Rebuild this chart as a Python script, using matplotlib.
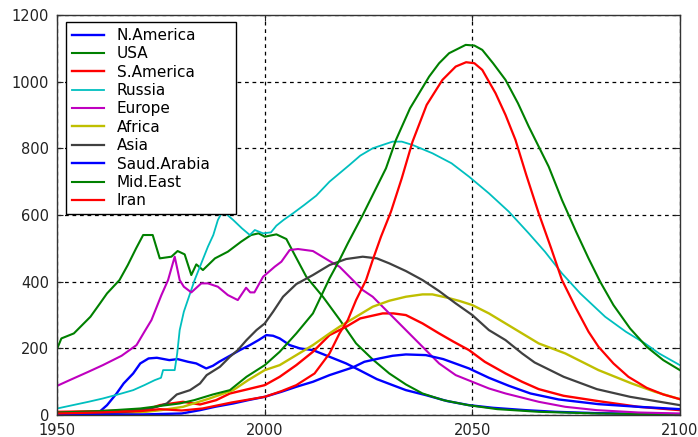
# Oil production by region, history and projection

import numpy as np
import matplotlib.pyplot as plt

plt.rcParams['font.family'] = ['DejaVu Sans']

# (year, value) per region
na_years = [1950, 1955, 1960, 1962, 1964.3, 1966, 1968.3, 1970, 1972, 1974, 1977, 1979, 1981.5, 1983.5,
            1985.9, 1987.5, 1989, 1991.6, 1994, 1996.4, 1998.5, 2000.4, 2002, 2003.6, 2006, 2008.5, 2011.6,
            2015.6, 2019.6, 2022.8, 2027, 2030.8, 2034, 2038.8, 2044, 2049.2, 2055, 2062.8, 2070, 2080, 2090, 2100]
na_vals = [5, 5, 8, 30, 65, 95, 125, 155, 170, 172, 165, 168, 160, 155,
           140, 148, 160, 178, 195, 210, 225, 240, 238, 230, 210, 200, 195,
           175, 155, 135, 108, 90, 75, 60, 42, 30, 22, 15, 10, 6, 4, 3]

usa_years = [1950, 1951, 1954, 1958, 1960.3, 1962, 1965, 1967, 1969, 1970.7, 1973, 1974.7, 1977.5, 1979,
             1980.7, 1982.3, 1983.5, 1985.1, 1988, 1991.1, 1994.3, 1996.7, 1998.5, 2000, 2002.8, 2005.2,
             2006.8, 2010, 2014, 2018, 2022, 2026, 2030, 2034, 2038, 2043, 2049, 2056, 2066, 2080, 2100]
usa_vals = [200, 230, 245, 295, 335, 365, 405, 450, 500, 540, 540, 470, 475, 492,
            482, 420, 452, 435, 470, 490, 520, 540, 545, 535, 542, 528,
            490, 415, 355, 287, 215, 167, 125, 92, 65, 45, 30, 18, 10, 5, 2]

sam_years = [1950, 1960, 1968, 1972.3, 1974.7, 1980.3, 1984.4, 1988.3, 1991.6, 1995, 2000, 2003.6, 2007.6,
             2011.6, 2015.6, 2019.6, 2023, 2028.4, 2031, 2034, 2038, 2042, 2045.5, 2049.2, 2053, 2058,
             2062, 2066, 2072, 2080.4, 2090, 2100]
sam_vals = [10, 12, 15, 20, 30, 40, 32, 45, 65, 75, 90, 115, 150,
            190, 240, 265, 290, 305, 305, 300, 275, 245, 220, 195, 160, 125,
            100, 78, 58, 42, 25, 15]

rus_years = [1950, 1953, 1957.5, 1961, 1965.5, 1968.3, 1971, 1973.5, 1975, 1975.5, 1978.3, 1978.9, 1979.5,
             1980.5, 1983.1, 1986.3, 1987.6, 1988.7, 1990, 1991, 1992.4, 1994.5, 1996.4, 1997.6, 1999.6,
             2001.5, 2002.8, 2004.5, 2006.8, 2009.5, 2012.4, 2015.6, 2020.4, 2023, 2026, 2030.8, 2033,
             2035.6, 2040.4, 2045, 2049.2, 2054, 2058.8, 2063.6, 2067.5, 2071.6, 2076, 2082, 2087, 2091.6,
             2095, 2100]
rus_vals = [20, 28, 40, 50, 65, 75, 90, 105, 112, 135, 135, 185, 255,
            310, 405, 505, 540, 585, 615, 600, 585, 560, 540, 555, 545,
            548, 568, 585, 605, 630, 658, 700, 750, 778, 800, 820, 820,
            810, 785, 755, 715, 665, 610, 545, 490, 425, 365, 295, 250, 215,
            185, 150]

eu_years = [1950, 1953, 1957.5, 1961, 1965.5, 1969.1, 1971, 1972.7, 1975.1, 1976.7, 1977.5, 1978.3, 1979.5,
            1980.5, 1982.3, 1984.7, 1986.3, 1988.7, 1991.1, 1993.5, 1995.5, 1996.5, 1997.5, 1999.6, 2002.4,
            2004, 2006, 2008, 2011.6, 2015.6, 2018, 2019.6, 2023.6, 2026, 2030, 2034, 2038, 2042, 2046,
            2050, 2054, 2058, 2066, 2072.4, 2080, 2090, 2100]
eu_vals = [88, 105, 130, 150, 178, 210, 250, 285, 360, 405, 440, 475, 405,
           385, 368, 395, 395, 385, 360, 345, 382, 368, 368, 415, 445,
           460, 495, 498, 492, 462, 445, 425, 375, 355, 305, 255, 205, 155, 120,
           100, 80, 65, 40, 25, 15, 8, 5]

af_years = [1950, 1960, 1970, 1975, 1980.3, 1986.7, 1992.4, 1996, 2000, 2003.6, 2007.6, 2011.6, 2015.6,
            2018, 2022, 2026, 2030, 2034, 2038, 2040.4, 2044, 2047, 2050, 2054, 2058, 2062, 2066, 2072.4,
            2080.4, 2088.4, 2094, 2100]
af_vals = [2, 3, 8, 15, 25, 50, 75, 105, 135, 150, 180, 210, 245,
           265, 295, 325, 343, 355, 362, 362, 352, 342, 330, 305, 275, 245, 215, 185,
           135, 95, 70, 48]

as_years = [1950, 1960, 1965, 1970.7, 1974, 1976.4, 1978.8, 1982, 1984.4, 1986, 1989.2, 1991.6, 1993.5,
            1995.6, 1998, 2000, 2002, 2004.4, 2007.6, 2011.6, 2015.6, 2019.6, 2023.6, 2027, 2030, 2034,
            2038, 2042, 2046, 2050, 2054, 2058, 2062, 2065, 2072, 2080, 2088, 2100]
as_vals = [3, 5, 8, 15, 25, 35, 62, 75, 95, 120, 145, 175, 195,
           225, 255, 275, 310, 355, 393, 420, 450, 468, 475, 470, 455, 432,
           405, 372, 335, 300, 255, 225, 185, 158, 115, 78, 55, 30]

sa_years = [1950, 1970, 1980, 1984.4, 1988, 1992.4, 1996, 2000, 2004, 2007.6, 2011.6, 2015.6, 2021.2, 2024,
            2027.6, 2030.8, 2034, 2038.8, 2043, 2049.2, 2054, 2058.8, 2064, 2070.8, 2080.4, 2090, 2100]
sa_vals = [2, 2, 5, 15, 25, 35, 45, 55, 70, 85, 100, 120, 143, 160,
           170, 178, 182, 180, 168, 140, 112, 88, 65, 47, 33, 25, 18]

me_years = [1950, 1960, 1970, 1975, 1979.5, 1983, 1987.5, 1991.6, 1995.6, 2000, 2003.6, 2007.6, 2011.6,
            2015.6, 2018, 2020, 2023.6, 2026, 2029.2, 2031.6, 2035, 2039.6, 2042, 2044.4, 2048.4, 2050.5,
            2052.4, 2055, 2058, 2061, 2063.6, 2068.4, 2071.6, 2075, 2078, 2080.8, 2084, 2088, 2092, 2096, 2100]
me_vals = [8, 12, 20, 28, 35, 45, 62, 75, 115, 150, 190, 245, 305,
           410, 465, 515, 600, 660, 740, 825, 920, 1015, 1055, 1085, 1110, 1108,
           1095, 1055, 1005, 935, 865, 745, 645, 550, 470, 400, 330, 260, 205, 165, 135]

ir_years = [1950, 1960, 1970, 1974.7, 1980, 1985, 1992, 2000, 2004, 2007.6, 2012, 2015.6, 2018, 2020, 2022,
            2024.4, 2026, 2028, 2030.4, 2033, 2035.6, 2039, 2042.8, 2046, 2048.5, 2050.5, 2052.4, 2055.6,
            2058, 2060.4, 2063, 2066, 2069, 2071.6, 2075, 2078, 2080.4, 2084, 2087.6, 2092, 2096, 2100]
ir_vals = [5, 8, 12, 18, 14, 20, 38, 55, 72, 90, 125, 185, 245, 285, 345,
           405, 465, 535, 610, 710, 820, 930, 1005, 1045, 1058, 1055, 1035, 965,
           900, 825, 720, 605, 500, 405, 320, 250, 205, 155, 115, 82, 62, 48]

labels = ['N.America', 'USA', 'S.America', 'Russia', 'Europe', 'Africa', 'Asia',
          'Saud.Arabia', 'Mid.East', 'Iran']
colors = ['#0000ff', '#008000', '#ff0000', '#00bfbf', '#bf00bf', '#bfbf00', '#404040',
          '#0000ff', '#008000', '#ff0000']
series = [(na_years, na_vals), (usa_years, usa_vals), (sam_years, sam_vals), (rus_years, rus_vals),
          (eu_years, eu_vals), (af_years, af_vals), (as_years, as_vals), (sa_years, sa_vals),
          (me_years, me_vals), (ir_years, ir_vals)]
widths = [1.7, 1.5, 1.7, 1.3, 1.5, 1.7, 1.6, 1.7, 1.5, 1.6]

fig = plt.figure(figsize=(6.98, 4.37), dpi=100)
ax = fig.add_axes([0.082, 0.050, 0.892, 0.916])

for (x, y), lab, c, w in zip(series, labels, colors, widths):
    ax.plot(x, y, color=c, lw=w, label=lab)

ax.set_xlim(1950, 2100)
ax.set_ylim(0, 1200)
ax.set_xticks([1950, 2000, 2050, 2100])
ax.set_yticks(np.arange(0, 1201, 200))
ax.grid(True, color='black', linestyle=(0, (3, 3)), linewidth=0.9)
ax.tick_params(direction='in', length=4, top=True, right=True, labelsize=10.5, colors='#222222')
ax.tick_params(axis='y', pad=6)
ax.tick_params(axis='x', pad=5.5)
for s in ax.spines.values():
    s.set_color('#333333')
    s.set_linewidth(1.0)

# legend box stretched to the width seen in the reference
leg = ax.legend(loc='upper left', bbox_to_anchor=(0.0144, 0.45, 0.273, 0.5325), mode='expand',
                borderaxespad=0, fontsize=11, fancybox=False, framealpha=1, edgecolor='black',
                handlelength=2.1, handletextpad=0.8, labelspacing=0.22, borderpad=0.4)
leg.get_frame().set_linewidth(1.0)

plt.savefig('out.png', dpi=100)
